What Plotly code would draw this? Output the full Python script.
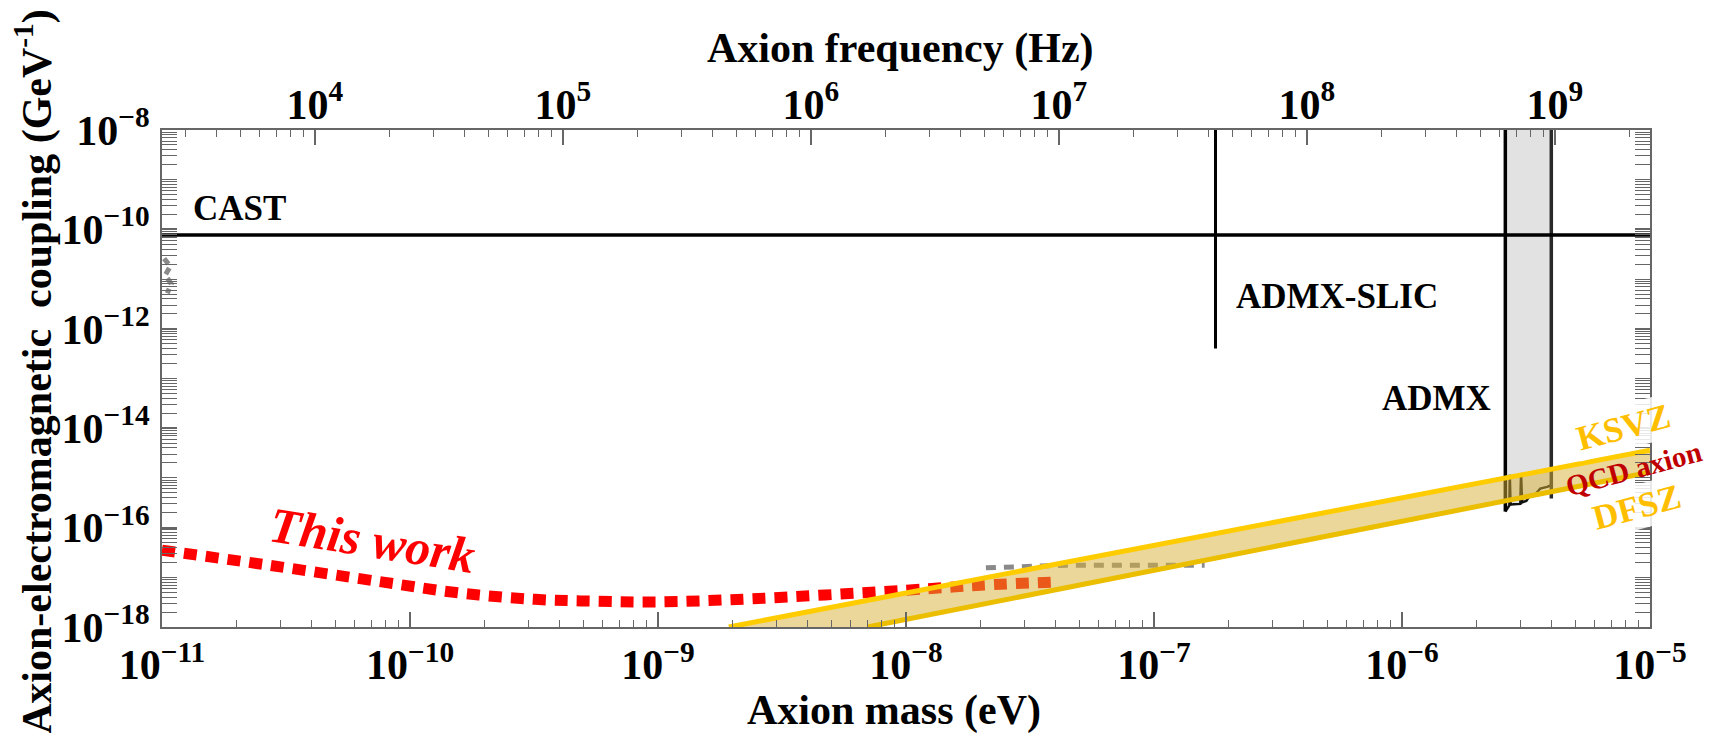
import numpy as np
import plotly.graph_objects as go

H_EVS = 4.135667696e-15  # Planck constant (eV s), mass -> frequency

# ---------------- data ----------------
mass_range = [1e-11, 1e-5]
g_range = [1e-18, 1e-8]

mass_ticks = [1e-11, 1e-10, 1e-9, 1e-8, 1e-7, 1e-6, 1e-5]
mass_ticktext = ["10<sup>−11</sup>", "10<sup>−10</sup>", "10<sup>−9</sup>", "10<sup>−8</sup>",
                 "10<sup>−7</sup>", "10<sup>−6</sup>", "10<sup>−5</sup>"]
g_ticks = [1e-18, 1e-16, 1e-14, 1e-12, 1e-10, 1e-8]
g_ticktext = ["10<sup>−18</sup>", "10<sup>−16</sup>", "10<sup>−14</sup>", "10<sup>−12</sup>",
              "10<sup>−10</sup>", "10<sup>−8</sup>"]
freq_ticks = [1e4, 1e5, 1e6, 1e7, 1e8, 1e9]
freq_ticktext = ["10<sup>4</sup>", "10<sup>5</sup>", "10<sup>6</sup>", "10<sup>7</sup>",
                 "10<sup>8</sup>", "10<sup>9</sup>"]

# This work (projected sensitivity)
this_work_mass = [1.0e-11, 2.7e-11, 7.8e-11, 1.6e-10, 3.2e-10, 5.7e-10, 1.0e-9,
                  2.4e-9, 1.0e-8, 2.0e-8, 4.1e-8]
this_work_g = [3.5e-17, 1.75e-17, 8.0e-18, 4.8e-18, 3.6e-18, 3.3e-18, 3.2e-18,
               3.7e-18, 5.5e-18, 6.9e-18, 8.1e-18]

# CAST
cast_g = 7.7e-11

# ADMX-SLIC
slic_mass = 1.77e-7
slic_g_min = 4.0e-13

# ADMX
admx_left_mass = 2.61e-6
admx_right_mass = 4.0e-6
admx_left_g_min = 2.1e-16
admx_right_g_min = 3.85e-16
admx_lim_mass = [2.61e-6, 2.69e-6, 2.71e-6, 2.72e-6, 2.74e-6, 2.82e-6, 3.00e-6, 3.02e-6,
                 3.05e-6, 3.17e-6, 3.29e-6, 3.45e-6, 3.61e-6, 3.85e-6, 4.0e-6]
admx_lim_g = [2.1e-16, 2.8e-16, 2.8e-16, 1.15e-15, 2.9e-16, 2.95e-16, 3.0e-16, 1.2e-15,
              3.2e-16, 3.45e-16, 4.5e-16, 4.7e-16, 6.1e-16, 6.6e-16, 7.1e-16]

# QCD axion band
ksvz_mass = [1.93e-9, 1e-5]
ksvz_g = [1e-18, 3.6e-15]
dfsz_mass = [7.0e-9, 1e-5]
dfsz_g = [1e-18, 1.3e-15]

# faint grey dashed remnants of other limits
gray_mid_mass = [2.1e-8, 4.5e-8, 1.6e-7]
gray_mid_g = [1.55e-17, 1.75e-17, 1.75e-17]
gray_left_mass = [1.02e-11, 1.08e-11, 1.03e-11, 1.09e-11, 1.05e-11]
gray_left_g = [2.6e-11, 1.8e-11, 1.2e-11, 8.0e-12, 5.2e-12]

# ---------------- figure ----------------
W, H = 1719, 733
L, R, T, B = 162, 69, 130, 106
FONT = "Liberation Serif, Times New Roman, serif"
BIG = 42

fig = go.Figure()

g_top = g_range[1] * 10

# ADMX grey region
fig.add_trace(go.Scatter(
    x=[admx_left_mass, admx_left_mass] + admx_lim_mass + [admx_right_mass, admx_right_mass],
    y=[g_top, admx_left_g_min] + admx_lim_g + [admx_right_g_min, g_top],
    fill="toself", fillcolor="#e2e2e2", line=dict(width=0), mode="lines",
    showlegend=False, hoverinfo="skip"))
fig.add_trace(go.Scatter(x=admx_lim_mass, y=admx_lim_g, mode="lines",
                         line=dict(color="#111111", width=2.5), showlegend=False))
fig.add_trace(go.Scatter(x=[admx_left_mass, admx_left_mass], y=[g_top, admx_left_g_min],
                         mode="lines", line=dict(color="#000000", width=3.5), showlegend=False))
fig.add_trace(go.Scatter(x=[admx_right_mass, admx_right_mass], y=[g_top, admx_right_g_min],
                         mode="lines", line=dict(color="#2a2a2a", width=3.5), showlegend=False))

# CAST
fig.add_trace(go.Scatter(x=mass_range, y=[cast_g, cast_g], mode="lines",
                         line=dict(color="black", width=3.5), showlegend=False))
# ADMX-SLIC
fig.add_trace(go.Scatter(x=[slic_mass, slic_mass], y=[slic_g_min, g_top], mode="lines",
                         line=dict(color="black", width=3), showlegend=False))

# grey dashed remnants
fig.add_trace(go.Scatter(x=gray_mid_mass, y=gray_mid_g, mode="lines",
                         line=dict(color="#8a8a8a", width=5, dash="10px,8px"), showlegend=False))
fig.add_trace(go.Scatter(x=gray_left_mass, y=gray_left_g, mode="lines",
                         line=dict(color="#8a8a8a", width=5, dash="7px,5px"), showlegend=False))

# This work
fig.add_trace(go.Scatter(x=this_work_mass, y=this_work_g, mode="lines",
                         line=dict(color="#ff0000", width=11, dash="13px,9px", shape="spline"),
                         showlegend=False))

# QCD band
fig.add_trace(go.Scatter(x=ksvz_mass + dfsz_mass[::-1], y=ksvz_g + dfsz_g[::-1],
                         fill="toself", fillcolor="rgba(214,176,52,0.5)", mode="lines",
                         line=dict(width=0), showlegend=False, hoverinfo="skip"))
fig.add_trace(go.Scatter(x=ksvz_mass, y=ksvz_g, mode="lines",
                         line=dict(color="#ffcc00", width=5), showlegend=False))
fig.add_trace(go.Scatter(x=dfsz_mass, y=dfsz_g, mode="lines",
                         line=dict(color="#ebbe00", width=5), showlegend=False))

# invisible trace carrying the frequency axis
freq_range = [mass_range[0] / H_EVS, mass_range[1] / H_EVS]
fig.add_trace(go.Scatter(x=freq_range, y=[None, None], xaxis="x2", mode="lines",
                         showlegend=False, hoverinfo="skip"))


def minor_vals(lo_exp, hi_exp, skip):
    vals = []
    for e in range(lo_exp, hi_exp + 1):
        for k in range(1, 10):
            v = k * 10.0 ** e
            if k == 1 and e in skip:
                continue
            vals.append(v)
    return vals


tickfont = dict(family=FONT, size=BIG, color="black", weight="bold")
axis_common = dict(showgrid=False, zeroline=False, ticks="inside", ticklen=15, tickwidth=1.5,
                   tickcolor="#666666", tickfont=tickfont)

fig.update_layout(
    width=W, height=H, margin=dict(l=L, r=R, t=T, b=B),
    plot_bgcolor="white", paper_bgcolor="white",
    xaxis=dict(type="log", range=[np.log10(mass_range[0]), np.log10(mass_range[1])],
               tickmode="array", tickvals=mass_ticks, ticktext=mass_ticktext,
               showline=True, linecolor="#666666", linewidth=2, mirror=True,
               minor=dict(tickmode="array",
                          tickvals=[v for v in minor_vals(-11, -6, []) if 1e-11 < v < 1e-5
                                    and v not in mass_ticks],
                          ticks="inside", ticklen=7, tickcolor="#666666", tickwidth=1.2),
               ticklabelstandoff=0, **axis_common),
    xaxis2=dict(type="log", overlaying="x", side="top", anchor="y",
                range=[np.log10(freq_range[0]), np.log10(freq_range[1])],
                tickmode="array", tickvals=freq_ticks, ticktext=freq_ticktext,
                showline=False,
                minor=dict(tickmode="array",
                           tickvals=[v for v in minor_vals(3, 9, list(range(4, 10)))
                                     if freq_range[0] < v < freq_range[1]],
                           ticks="inside", ticklen=7, tickcolor="#666666", tickwidth=1.2),
                ticklabelstandoff=2, **axis_common),
    yaxis=dict(type="log", range=[np.log10(g_range[0]), np.log10(g_range[1])],
               tickmode="array", tickvals=g_ticks, ticktext=g_ticktext,
               showline=True, linecolor="#666666", linewidth=2, mirror="allticks",
               minor=dict(tickmode="array",
                          tickvals=[v for v in minor_vals(-18, -9, [-18, -16, -14, -12, -10])
                                    if 1e-18 < v < 1e-8],
                          ticks="inside", ticklen=7, tickcolor="#666666", tickwidth=1.2),
               ticklabelstandoff=2, **axis_common),
)

PW = W - L - R
PH = H - T - B


def px(xp):
    return (xp - L) / PW


def py(yp):
    return (H - B - yp) / PH


def label(text, xp, yp, size=35, color="black", angle=0, italic=False, bg=None, xanchor="center"):
    fig.add_annotation(
        text=text, x=px(xp), y=py(yp), xref="paper", yref="paper",
        xanchor=xanchor, yanchor="middle", showarrow=False, textangle=angle,
        font=dict(family=FONT, size=size, color=color, weight="bold",
                  style="italic" if italic else "normal"),
        bgcolor=bg, borderpad=2)


label("CAST", 239, 208)
label("ADMX-SLIC", 1337, 296)
label("ADMX", 1436, 398)
label("This work", 372, 540, size=50, color="#ff0000", angle=9, italic=True)
label("KSVZ", 1623, 428, size=35, color="#ffbf00", angle=-15, bg="rgba(255,255,255,0.85)")
label("QCD axion", 1633, 469, size=29, color="#c00000", angle=-15)
label("DFSZ", 1636, 507, size=35, color="#ffbf00", angle=-15, bg="rgba(255,255,255,0.85)")

# axis titles
label("Axion frequency (Hz)", 900, 48, size=BIG)
label("Axion mass (eV)", 894, 710, size=BIG)
label("Axion-electromagnetic&nbsp; coupling (GeV<sup>-1</sup>)", 34, 372, size=BIG, angle=-90)

fig.write_html("out.html")
